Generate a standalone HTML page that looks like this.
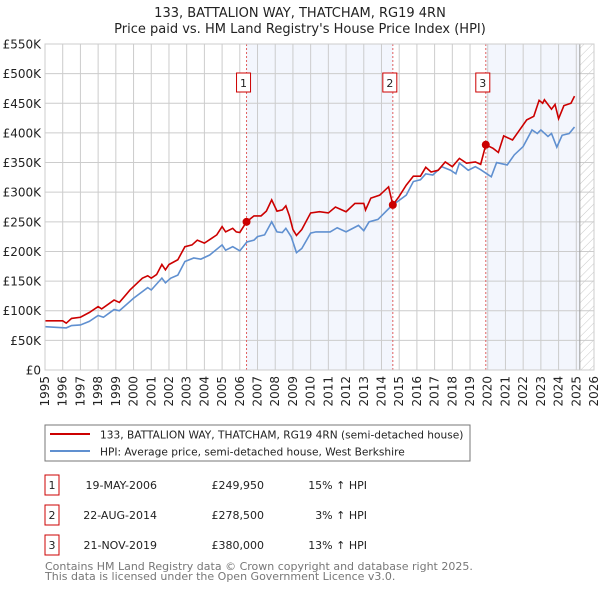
<!DOCTYPE html>
<html><head><meta charset="utf-8"><style>
body{margin:0;background:#fff;font-family:"DejaVu Sans","Liberation Sans",sans-serif;}
svg text{font-family:"DejaVu Sans","Liberation Sans",sans-serif;}
</style></head><body>
<svg id="c" width="600" height="590" xmlns="http://www.w3.org/2000/svg">
<defs><pattern id="hatch" width="6" height="6" patternUnits="userSpaceOnUse" patternTransform="rotate(45)"><line x1="0" y1="0" x2="0" y2="6" stroke="#bbb" stroke-width="0.8"/></pattern></defs>
<text x="300" y="17" text-anchor="middle" font-size="13" fill="#222">133, BATTALION WAY, THATCHAM, RG19 4RN</text>
<text x="300" y="33" text-anchor="middle" font-size="13" fill="#222">Price paid vs. HM Land Registry's House Price Index (HPI)</text>
<g id="plot"></g>
<rect x="45" y="425" width="425" height="36" fill="#fff" stroke="#777"/>
<line x1="50" y1="434" x2="90" y2="434" stroke="#cc0000" stroke-width="2"/>
<text x="100" y="438.5" font-size="10.6" fill="#222">133, BATTALION WAY, THATCHAM, RG19 4RN (semi-detached house)</text>
<line x1="50" y1="451" x2="90" y2="451" stroke="#6090d0" stroke-width="2"/>
<text x="100" y="455.5" font-size="10.6" fill="#222">HPI: Average price, semi-detached house, West Berkshire</text>
<g id="table" font-size="11" fill="#222"></g>
<text x="45" y="570" font-size="11" fill="#777">Contains HM Land Registry data © Crown copyright and database right 2025.</text>
<text x="45" y="580" font-size="11" fill="#777">This data is licensed under the Open Government Licence v3.0.</text>
</svg>
<script>
const hpiYears=[1995,1996.2,1996.5,1997,1997.5,1998,1998.3,1998.9,1999.2,2000,2000.8,2001,2001.6,2001.8,2002.1,2002.5,2002.9,2003.4,2003.8,2004.3,2005,2005.2,2005.6,2006,2006.4,2006.8,2007,2007.4,2007.8,2008.1,2008.4,2008.6,2008.9,2009.2,2009.5,2010,2010.3,2011.1,2011.5,2012,2012.7,2013,2013.3,2013.8,2014.5,2014.9,2015.4,2015.8,2016.2,2016.5,2016.9,2017.4,2017.9,2018.2,2018.4,2018.9,2019.3,2019.6,2020.2,2020.5,2021.1,2021.5,2022,2022.5,2022.8,2023,2023.4,2023.6,2023.9,2024.2,2024.6,2024.9];
const hpiValues=[73,71,75,76,82,92,89,102,100,121,139,135,155,147,155,160,183,189,187,194,211,202,208,201,216,219,225,228,250,233,232,239,225,198,205,231,233,233,240,233,244,235,250,254,275,284,295,318,321,331,329,343,337,331,349,337,343,338,326,350,346,363,377,405,399,405,394,399,376,396,399,410];
const redYears=[1995,1996,1996.2,1996.5,1997,1997.5,1998,1998.2,1998.9,1999.2,1999.8,2000.5,2000.8,2001,2001.3,2001.6,2001.8,2002,2002.5,2002.9,2003.3,2003.6,2004,2004.4,2004.7,2005,2005.2,2005.6,2005.8,2006,2006.38,2006.8,2007.2,2007.5,2007.8,2008.1,2008.4,2008.6,2008.8,2009,2009.2,2009.5,2010,2010.5,2011,2011.4,2012,2012.5,2013,2013.1,2013.4,2013.9,2014.4,2014.64,2015,2015.4,2015.8,2016.2,2016.5,2016.8,2017.2,2017.6,2018,2018.4,2018.8,2019.3,2019.6,2019.89,2020.3,2020.6,2020.9,2021.4,2021.8,2022.2,2022.6,2022.9,2023.1,2023.2,2023.6,2023.8,2024,2024.3,2024.7,2024.9];
const redValues=[83,83,79,87,89,97,107,103,118,114,135,155,159,155,161,178,169,178,186,208,211,219,214,222,228,242,233,239,233,232,249.95,260,260,268,287,268,270,277,260,237,227,237,265,267,265,275,267,281,281,270,290,295,309,278.5,293,312,327,327,342,334,337,351,343,357,349,351,347,380,374,367,395,388,405,422,428,455,450,456,440,448,424,446,450,462];
const saleYears=[2006.38,2014.64,2019.89];
const salePrices=[249950,278500,380000];
const saleDates=["19-MAY-2006","22-AUG-2014","21-NOV-2019"];
const saleDiffs=["15% ↑ HPI","3% ↑ HPI","13% ↑ HPI"];
const yTicks=[0,50,100,150,200,250,300,350,400,450,500,550];
const xTicks=[1995,1996,1997,1998,1999,2000,2001,2002,2003,2004,2005,2006,2007,2008,2009,2010,2011,2012,2013,2014,2015,2016,2017,2018,2019,2020,2021,2022,2023,2024,2025,2026];
const X0=45,X1=594,Y0=370,Y1=44;
const xs=y=>X0+(y-1995)/31*(X1-X0);
const ys=v=>Y0-v/550*(Y0-Y1);
const NS="http://www.w3.org/2000/svg";
const P=document.getElementById('plot');
function mk(t,a,parent){const e=document.createElementNS(NS,t);for(const k in a)e.setAttribute(k,a[k]);(parent||P).appendChild(e);return e;}
let e;
e=mk('rect',{x:xs(saleYears[0]),y:Y1,width:xs(saleYears[1])-xs(saleYears[0]),height:Y0-Y1,fill:'#f3f6fd'});


e=mk('rect',{x:xs(saleYears[2]),y:Y1,width:xs(2025.2)-xs(saleYears[2]),height:Y0-Y1,fill:'#f3f6fd'});


e=mk('rect',{x:xs(2025.2),y:Y1,width:X1-xs(2025.2),height:Y0-Y1,fill:'url(#hatch)'});


xTicks.forEach(t=>{
 e=mk('line',{x1:xs(t),x2:xs(t),y1:Y1,y2:Y0,stroke:'#ccc','stroke-width':1});
 
 
 e=mk('text',{x:0,y:0,'font-size':12,fill:'#222','text-anchor':'end',transform:`translate(${xs(t)+4},376) rotate(-90)`});
 e.textContent=t;
 
 
});
yTicks.forEach(t=>{
 e=mk('line',{x1:X0,x2:X1,y1:ys(t),y2:ys(t),stroke:'#ccc','stroke-width':1});
 
 
 e=mk('text',{x:41,y:ys(t)+4.5,'font-size':12,fill:'#222','text-anchor':'end'});
 e.textContent=t===0?'£0':'£'+t+'K';
 
 
});
e=mk('line',{x1:xs(2025.2),x2:xs(2025.2),y1:Y1,y2:Y0,stroke:'#999','stroke-width':1});


saleYears.forEach((s,i)=>{
 e=mk('line',{x1:xs(s),x2:xs(s),y1:Y1,y2:Y0,stroke:'#e06060','stroke-width':1,'stroke-dasharray':'2,2'});
 
 
 e=mk('rect',{x:xs(s)-7-3,y:73,width:14,height:19,fill:'#fff',stroke:'#cc0000'});
 
 
 e=mk('text',{x:xs(s)-3,y:87,'font-size':11,fill:'#222','text-anchor':'middle'});
 e.textContent=i+1;
 
 
});
e=mk('polyline',{points:hpiYears.map((y,i)=>xs(y)+','+ys(hpiValues[i])).join(' '),fill:'none',stroke:'#6090d0','stroke-width':1.6});


e=mk('polyline',{points:redYears.map((y,i)=>xs(y)+','+ys(redValues[i])).join(' '),fill:'none',stroke:'#cc0000','stroke-width':1.6});


saleYears.forEach((s,i)=>{
 e=mk('circle',{cx:xs(s),cy:ys(salePrices[i]/1000),r:4,fill:'#cc0000'});
 
 
});
e=mk('rect',{x:X0,y:Y1,width:X1-X0,height:Y0-Y1,fill:'none',stroke:'#ccc'});


const T=document.getElementById('table');
saleYears.forEach((s,i)=>{
 const yb=475+i*30;
 e=mk('rect',{x:45,y:yb,width:14,height:20,fill:'#fff',stroke:'#cc0000'},T);
 
 
 e=mk('text',{x:52,y:yb+14,'text-anchor':'middle'},T);e.textContent=i+1;
 
 
 e=mk('text',{x:157,y:yb+14,'text-anchor':'end'},T);e.textContent=saleDates[i];
 
 
 e=mk('text',{x:264,y:yb+14,'text-anchor':'end'},T);e.textContent='£'+salePrices[i].toLocaleString('en-GB');
 
 
 e=mk('text',{x:367,y:yb+14,'text-anchor':'end'},T);e.textContent=saleDiffs[i];
 
 
});
</script>
</body></html>
